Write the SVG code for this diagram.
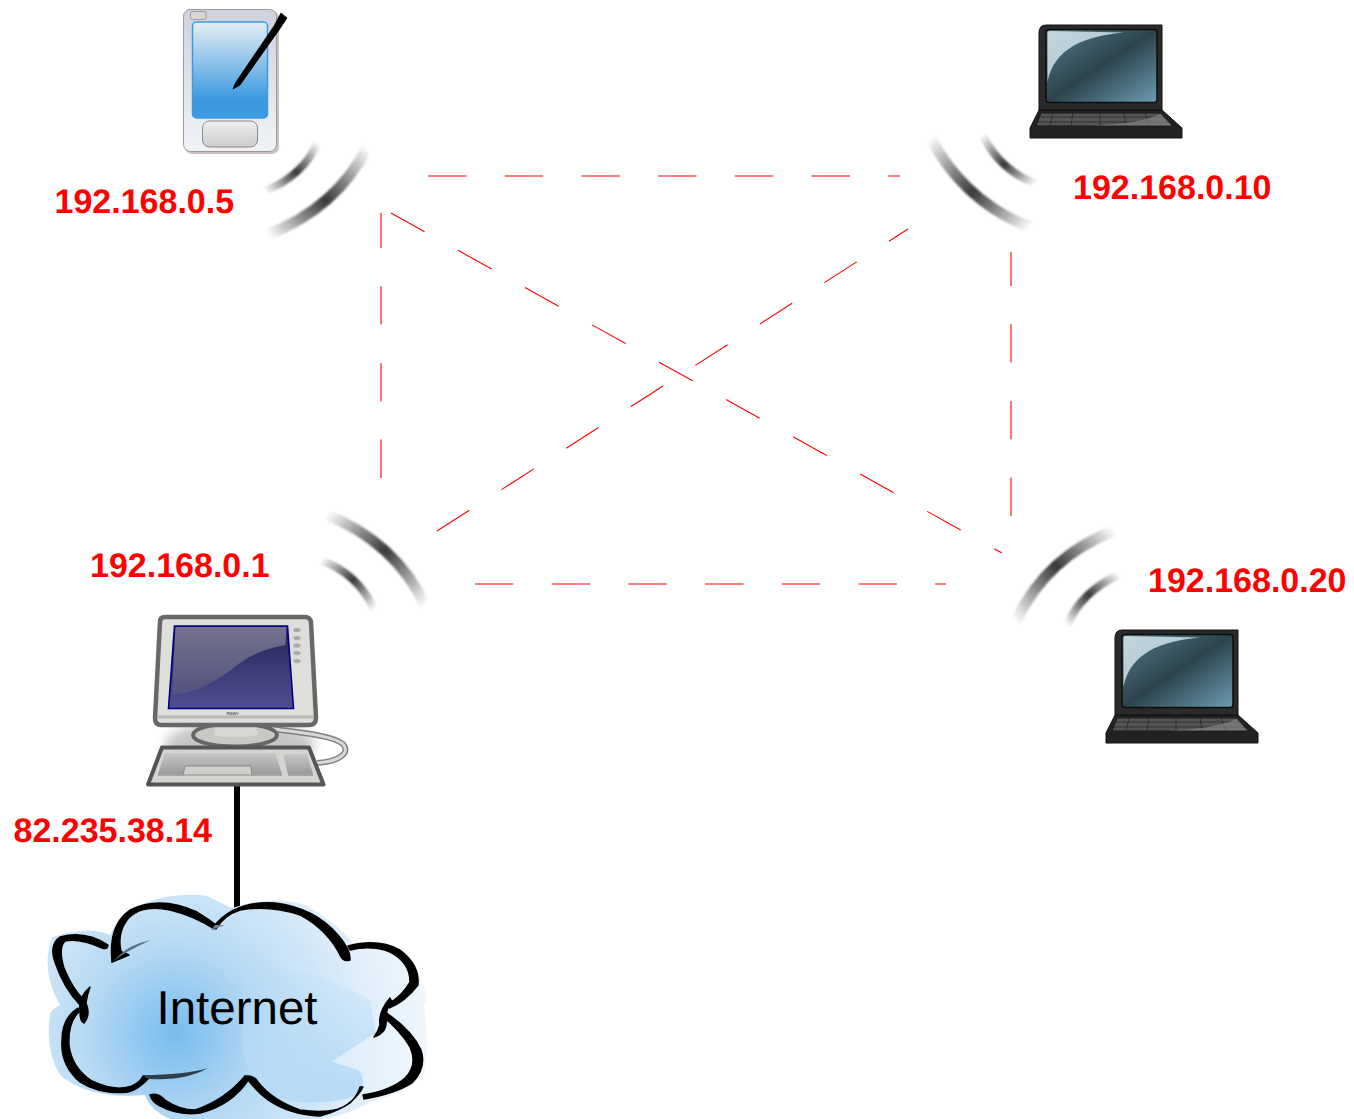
<svg xmlns="http://www.w3.org/2000/svg" xmlns:xlink="http://www.w3.org/1999/xlink" width="1354" height="1119" viewBox="0 0 1354 1119">
<style>
text{text-rendering:geometricPrecision}
.ip{font-family:"Liberation Sans",Arial,sans-serif;font-weight:700;font-size:34px;fill:#f00}
.dash{fill:none;stroke:#f00;stroke-width:1.100;stroke-dasharray:38.4 38.3}
.wave{fill:none;filter:url(#soft)}
.ink{fill:#000;stroke:#000;stroke-width:1.400;stroke-linejoin:round}
</style>
<defs>
<filter id="soft" x="-20%" y="-20%" width="140%" height="140%"><feGaussianBlur stdDeviation="1.100"/></filter>
<filter id="blur6" x="-40%" y="-80%" width="180%" height="260%"><feGaussianBlur stdDeviation="6"/></filter>
<linearGradient id="w0"><stop offset="0" stop-color="#fff"/><stop offset=".28" stop-color="#8c8c8c"/><stop offset=".5" stop-color="#3a3a3a"/><stop offset=".72" stop-color="#8c8c8c"/><stop offset="1" stop-color="#fff"/></linearGradient>
<linearGradient id="w1" href="#w0" xlink:href="#w0" gradientUnits="userSpaceOnUse" x1="267" y1="234" x2="367" y2="147"/>
<linearGradient id="w2" href="#w0" xlink:href="#w0" gradientUnits="userSpaceOnUse" x1="265" y1="191" x2="317" y2="142"/>
<linearGradient id="w3" href="#w0" xlink:href="#w0" gradientUnits="userSpaceOnUse" x1="931" y1="137" x2="1031" y2="227"/>
<linearGradient id="w4" href="#w0" xlink:href="#w0" gradientUnits="userSpaceOnUse" x1="983" y1="134" x2="1036" y2="183"/>
<linearGradient id="w5" href="#w0" xlink:href="#w0" gradientUnits="userSpaceOnUse" x1="326" y1="515" x2="425" y2="606"/>
<linearGradient id="w6" href="#w0" xlink:href="#w0" gradientUnits="userSpaceOnUse" x1="321" y1="560" x2="374" y2="610"/>
<linearGradient id="w7" href="#w0" xlink:href="#w0" gradientUnits="userSpaceOnUse" x1="1016" y1="622" x2="1115" y2="531"/>
<linearGradient id="w8" href="#w0" xlink:href="#w0" gradientUnits="userSpaceOnUse" x1="1067" y1="626" x2="1120" y2="575"/>
<linearGradient id="pdaBody" x1="0" y1="0" x2="0" y2="1"><stop offset="0" stop-color="#cfd2de"/><stop offset="1" stop-color="#f0f3f6"/></linearGradient>
<linearGradient id="pdaScreen" x1="0" y1="0" x2="0" y2="1"><stop offset="0" stop-color="#e6eef4"/><stop offset=".8" stop-color="#3d9ae0"/><stop offset="1" stop-color="#3d9ae0"/></linearGradient>
<linearGradient id="pdaBtn" x1="0" y1="0" x2="0" y2="1"><stop offset="0" stop-color="#f0f0f0"/><stop offset="1" stop-color="#cbcbcb"/></linearGradient>
<linearGradient id="lapScreen" x1="0" y1="0" x2="1" y2="1"><stop offset="0" stop-color="#557a88"/><stop offset=".5" stop-color="#2c444d"/><stop offset="1" stop-color="#6d9cb2"/></linearGradient>
<linearGradient id="lapGlare" x1="0" y1="0" x2="1" y2="1"><stop offset="0" stop-color="#c4d6de"/><stop offset="1" stop-color="#a8c0cb"/></linearGradient>
<linearGradient id="monScreen" x1="0" y1="0" x2="0" y2="1"><stop offset="0" stop-color="#24245a"/><stop offset="1" stop-color="#4f4f90"/></linearGradient>
<linearGradient id="monGlare" x1="0" y1="0" x2="0" y2="1"><stop offset="0" stop-color="#75728e"/><stop offset="1" stop-color="#53527f"/></linearGradient>
<linearGradient id="keyb" x1="0" y1="0" x2="0" y2="1"><stop offset="0" stop-color="#c8c8c8"/><stop offset="1" stop-color="#9a9a9a"/></linearGradient>
<radialGradient id="cloudA" gradientUnits="userSpaceOnUse" cx="175" cy="1035" r="260"><stop offset="0" stop-color="#78bcee"/><stop offset=".35" stop-color="#b7daf4"/><stop offset=".75" stop-color="#e0eefa"/><stop offset="1" stop-color="#f2f8fd"/></radialGradient>
<linearGradient id="cloudB" gradientUnits="userSpaceOnUse" x1="290" y1="1090" x2="290" y2="965"><stop offset="0" stop-color="#b7dbf6"/><stop offset="1" stop-color="#b7dbf6" stop-opacity=".1"/></linearGradient>
<linearGradient id="cloudC" gradientUnits="userSpaceOnUse" x1="335" y1="1060" x2="425" y2="1060"><stop offset="0" stop-color="#dcecf9"/><stop offset="1" stop-color="#f2f8fd"/></linearGradient>
<symbol id="laptop" overflow="visible">
  <path d="M1030 128 L1039 110 L1162 110 L1182 128 L1182 138 L1030 138Z" fill="#222" stroke="#111" stroke-width="1"/>
  <path d="M1041 113 L1161 113 L1173 126 L1036 126Z" fill="#555" stroke="#1a1a1a"/>
  <path d="M1039 117H1165M1037 122H1169M1053 113L1050 126M1073 113L1071 126M1100 113L1100 126M1124 113L1126 126M1145 113L1150 126" fill="none" stroke="#222" stroke-width=".7"/>
  <path d="M1090 125.500 Q1140 124 1160 114 L1171 125.500Z" fill="#8c8c8c" opacity=".6"/>
  <path d="M1039 33 Q1039 25 1046 25 L1162 25 L1162 110 L1039 110Z" fill="#2a2a2a" stroke="#111" stroke-width="1"/>
  <rect x="1046" y="29.500" width="111" height="73" rx="3" fill="url(#lapScreen)" stroke="#0d0d0d" stroke-width="1.500"/>
  <path d="M1047.500 82 L1047.500 33 Q1047.500 31 1050 31 L1124 32.500 C1085 36 1054 48 1047.500 82Z" fill="url(#lapGlare)"/>
</symbol>
</defs>
<rect width="1354" height="1119" fill="#fff"/>

<g id="connectors">
<path class="dash" d="M428 176H900"/>
<path class="dash" d="M475 584H946"/>
<path class="dash" d="M381 478V213"/>
<path class="dash" d="M1011 516V252"/>
<path class="dash" d="M391 213L1002 553"/>
<path class="dash" d="M437 531L908 229"/>
<path d="M237 786V910" fill="none" stroke="#000" stroke-width="6"/>
</g>

<g id="waves">
<path class="wave" d="M267 235Q337 208 368 146" stroke="url(#w1)" stroke-width="11"/>
<path class="wave" d="M265 191Q303 176 318 142" stroke="url(#w2)" stroke-width="8"/>
<path class="wave" d="M930 137Q965 203 1032 228" stroke="url(#w3)" stroke-width="11"/>
<path class="wave" d="M982 134Q1000 171 1037 184" stroke="url(#w4)" stroke-width="8"/>
<path class="wave" d="M325 514Q396 542 426 607" stroke="url(#w5)" stroke-width="11"/>
<path class="wave" d="M320 560Q358 573 375 611" stroke="url(#w6)" stroke-width="8"/>
<path class="wave" d="M1015 623Q1046 556 1116 530" stroke="url(#w7)" stroke-width="11"/>
<path class="wave" d="M1066 627Q1082 590 1121 574" stroke="url(#w8)" stroke-width="8"/>
</g>

<g id="pda">
<rect x="185" y="11" width="94" height="143" rx="7" fill="#cdbfc0"/>
<rect x="183.500" y="9.500" width="93" height="142" rx="7" fill="url(#pdaBody)" stroke="#9a9a9a"/>
<rect x="190.500" y="11.500" width="15.500" height="8" rx="2" fill="#d8d8d8" stroke="#999"/>
<rect x="192.500" y="22" width="75" height="96" rx="4" fill="url(#pdaScreen)" stroke="#3d9ae0" stroke-width="1.500"/>
<rect x="202.500" y="121" width="55" height="26" rx="7" fill="url(#pdaBtn)" stroke="#8a8a8a"/>
<path d="M233 89L236 82L274 26L281 13L287 18L279 30L240 85Z" fill="#000" stroke="#000" stroke-width=".8" stroke-linejoin="round"/>
</g>

<g id="laptop-10"><use href="#laptop" xlink:href="#laptop"/></g>
<g id="laptop-20"><use href="#laptop" xlink:href="#laptop" transform="translate(76 605)"/></g>

<g id="desktop">
<ellipse cx="240" cy="745" rx="75" ry="25" fill="#999" opacity=".55" filter="url(#blur6)"/>
<path d="M267 728C300 733 332 735 343 744C350 752 342 761 317 763" fill="none" stroke="#808080" stroke-width="6"/>
<path d="M267 728C300 733 332 735 343 744C350 752 342 761 317 763" fill="none" stroke="#d8d8d8" stroke-width="3"/>
<ellipse cx="235" cy="735" rx="42" ry="11.500" fill="#c8c8c4" stroke="#666" stroke-width="4"/>
<path d="M215 725H257L258 735Q236 739 214 735Z" fill="#d8d8d4"/>
<path d="M165 617H305Q310 617 311 622L316 718Q316 725 309 725H161Q155 725 155 718L160 622Q160 617 165 617Z" fill="#dededa" stroke="#686868" stroke-width="4.500" stroke-linejoin="round"/>
<path d="M158 717H314" stroke="#b8b8b4" stroke-width="3" fill="none"/>
<path d="M174.500 626H287.500L293.500 708.500H168.500Z" fill="url(#monScreen)" stroke="#000080" stroke-width="1.600"/>
<path d="M175.500 627H286.500L285.500 645C247 652 236 667 227 673C207 686 195 692 172 695Z" fill="url(#monGlare)"/>
<g fill="#a8a8a4" stroke="#bbb" stroke-width=".5">
<ellipse cx="297" cy="630" rx="3.500" ry="2"/><ellipse cx="297" cy="638" rx="3.500" ry="2"/><ellipse cx="297" cy="645.500" rx="3.500" ry="2"/><ellipse cx="297" cy="653" rx="3.500" ry="2"/><ellipse cx="297" cy="661" rx="3.500" ry="2"/>
</g>
<text x="232.500" y="715" font-family="Liberation Sans, sans-serif" font-size="4" font-weight="700" fill="#555" text-anchor="middle">POWY</text>
<path d="M162 747.500H309L323.500 784.500H148Z" fill="#d4d4d0" stroke="#555" stroke-width="4" stroke-linejoin="round"/>
<path d="M165 753H275L282 774H252L251 766H185L183 774H158Z" fill="url(#keyb)"/>
<path d="M283 754H307L313 774H288Z" fill="url(#keyb)"/>
<path d="M158 775H183M252 775H282M288 775H313" stroke="#777" stroke-width="1.200" fill="none"/>
<path d="M185 766H251L252 775H183Z" fill="#cfcfcb" stroke="#888"/>
</g>

<g id="internet">
<path d="M52 937Q90 925 110 935Q125 905 165 897Q190 893 207 896Q225 905 232 908Q270 895 305 905Q340 925 355 945Q395 935 415 965Q432 1000 424 1005Q430 1040 424 1075Q400 1095 375 1100Q340 1118 320 1119H170Q150 1110 145 1095Q90 1100 60 1075Q45 1050 50 1015Q50 1010 60 1005Q40 970 52 937Z" fill="url(#cloudA)"/>
<path d="M243 980Q250 968 275 968Q320 972 370 1000L380 1060L360 1095Q310 1110 270 1095Q240 1070 243 1040Z" fill="url(#cloudB)"/>
<path d="M332 1062Q360 1042 390 1025L422 1062L405 1085L362 1095Q365 1075 358 1070Z" fill="url(#cloudC)"/>
<g class="ink">
<path d="M112 962Q108 925 130 910Q160 895 197 912Q210 920 216 925L214 929Q195 916 170 910Q140 904 127 920Q116 935 122 955Z"/>
<path d="M112 962L122 952Q127 954 129 955Q122 958 112 962Z"/>
<path d="M214 926Q235 900 275 903Q315 908 338 935Q351 950 350 960Q344 962 341 957Q328 930 300 915Q270 905 240 910Q224 915 216 929Z"/>
<path d="M348 946Q378 938 400 950Q420 965 418 985Q405 1002 389 1008L388 1004Q402 996 410 982Q410 962 390 952Q372 945 350 950Z"/>
<path d="M390 998Q378 1012 380 1025Q378 1032 374 1037Q388 1033 386 1018Q386 1008 392 1002Z"/>
<path d="M385 1012Q412 1030 421 1050Q427 1068 412 1083Q395 1094 364 1099L363 1095Q392 1090 405 1078Q418 1065 410 1047Q400 1030 382 1016Z"/>
<path d="M363 1087Q352 1108 320 1116Q290 1115 268 1100Q255 1090 245 1076Q254 1075 258 1082Q272 1100 300 1110Q335 1115 350 1103Q358 1095 360 1087Z"/>
<path d="M150 1095Q158 1092 165 1100Q180 1110 195 1110Q225 1100 245 1076L249 1079Q232 1105 200 1113Q178 1116 160 1106Q152 1102 150 1095Z"/>
<path d="M150 1077Q138 1090 128 1092Q100 1095 80 1082Q60 1065 62 1040Q62 1018 78 1008L79 1012Q68 1022 69 1045Q72 1068 92 1081Q115 1092 132 1086Q140 1082 143 1076Z"/>
<path d="M90 987Q78 997 80 1012Q80 1022 84 1023Q91 1015 86 1003Q87 995 90 987Z"/>
<path d="M80 1005Q64 988 56 965Q48 945 60 937Q85 930 108 945Q108 950 102 948Q80 938 65 941Q58 948 64 968Q72 988 84 1000Z"/>
</g>
<path d="M112 962Q128 950 151 940Q130 945 122 953Z" fill="#5a6f80"/>
<path d="M143 1075Q185 1075 208 1068Q185 1081 150 1079Q146 1079 143 1075Z" fill="#2f3f4d"/>
<path d="M211 930L225 925L215 925Z" fill="#6b7f8e"/>
<text x="237" y="1023.500" font-family="Liberation Sans, Arial, sans-serif" font-size="47.500" fill="#000" text-anchor="middle">Internet</text>
</g>

<g id="labels">
<text class="ip" x="54.500" y="213">192.168.0.5</text>
<text class="ip" x="1073" y="199">192.168.0.10</text>
<text class="ip" x="90" y="577">192.168.0.1</text>
<text class="ip" x="1148" y="592">192.168.0.20</text>
<text class="ip" x="13.500" y="841.500">82.235.38.14</text>
</g>
</svg>
